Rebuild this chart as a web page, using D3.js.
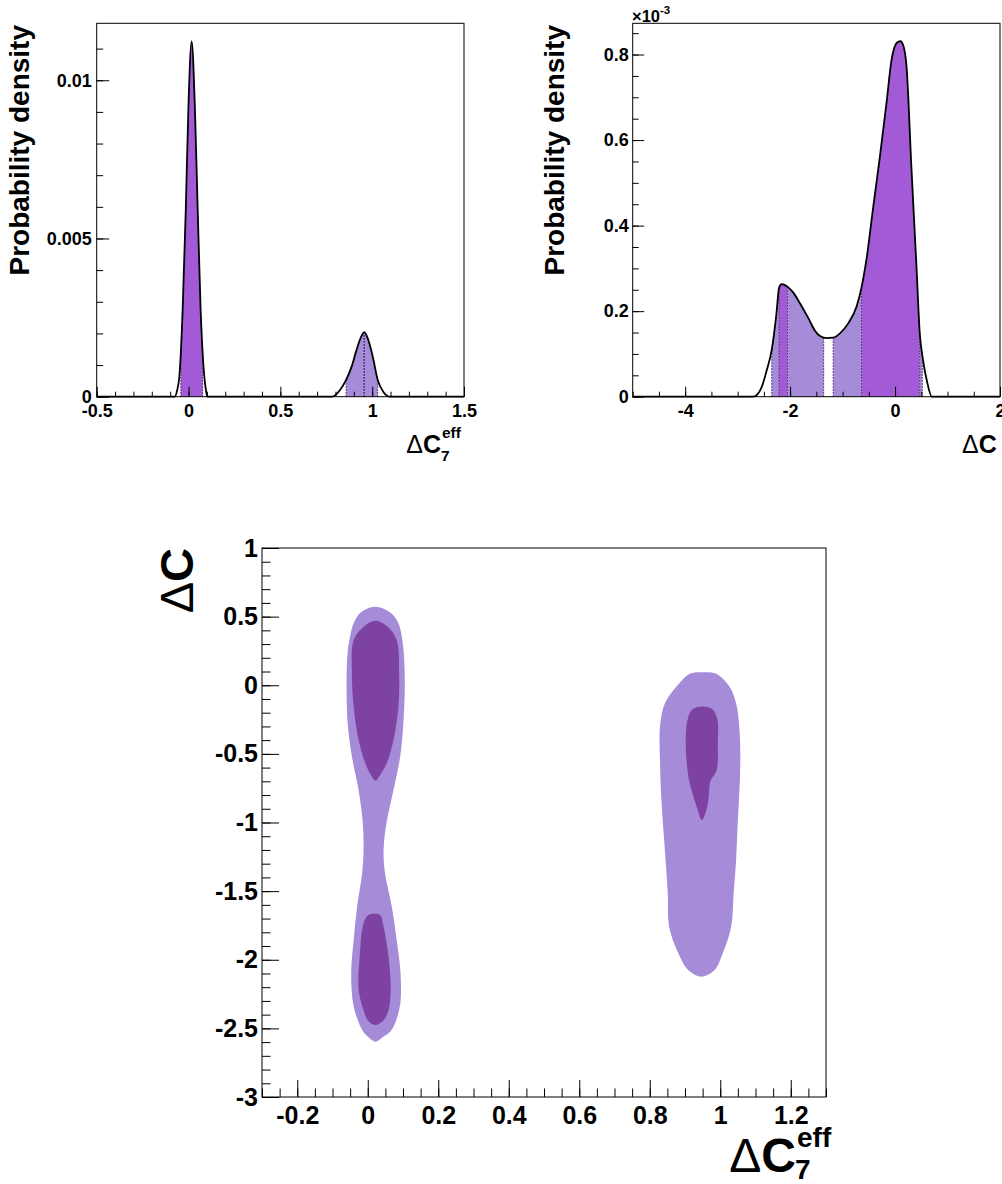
<!DOCTYPE html>
<html>
<head>
<meta charset="utf-8">
<script src="https://cdn.jsdelivr.net/npm/d3@7"></script>
<style>
  html, body { margin: 0; padding: 0; background: #fff; }
  svg { display: block; }
</style>
</head>
<body>
<svg id="chart" width="1002" height="1184"></svg>
<script>
const FONT = '"Liberation Sans", Arial, Helvetica, sans-serif';

// ---------- ΔC7eff marginal posterior: [value, density] ----------
const c7Points = [
  [-0.5, 0], [-0.075, 0], [-0.062, 0.0002], [-0.050, 0.00063], [-0.032, 0.00274],
  [-0.015, 0.0059], [-0.001, 0.00907], [0.017, 0.01123], [0.035, 0.00907],
  [0.050, 0.0059], [0.066, 0.00274], [0.086, 0.00063], [0.095, 0.0002], [0.102, 0],
  [0.78, 0], [0.825, 0.00021], [0.858, 0.00053], [0.888, 0.00095], [0.915, 0.00148],
  [0.942, 0.00192], [0.957, 0.00204], [0.979, 0.00179], [1.003, 0.00127],
  [1.030, 0.00053], [1.06, 0.00016], [1.098, 0], [1.5, 0]
];
// credible intervals: cl 68 = darker band, cl 95 = lighter band
const c7Bands = [
  { from: -0.042, to: 0.077, cl: 68 },
  { from: 0.858, to: 0.955, cl: 95 },
  { from: 0.955, to: 0.958, cl: 68 },
  { from: 0.958, to: 1.030, cl: 95 }
];
const c7XTicks = [-0.5, 0, 0.5, 1, 1.5];
const c7YTicks = [0, 0.005, 0.01];

// ---------- ΔC marginal posterior: [value, density ×10^-3] ----------
const cPoints = [
  [-5, 0], [-2.70, 0], [-2.54, 0.023], [-2.45, 0.06], [-2.35, 0.11], [-2.26, 0.195],
  [-2.21, 0.255], [-2.16, 0.263], [-2.10, 0.261], [-2.03, 0.255], [-1.95, 0.245],
  [-1.81, 0.218], [-1.65, 0.183], [-1.53, 0.155], [-1.43, 0.142], [-1.30, 0.137],
  [-1.18, 0.138], [-1.05, 0.148], [-0.89, 0.172], [-0.73, 0.212], [-0.64, 0.255],
  [-0.54, 0.325], [-0.42, 0.44], [-0.29, 0.56], [-0.16, 0.69], [-0.07, 0.785],
  [0.03, 0.827], [0.10, 0.831], [0.16, 0.82], [0.22, 0.77], [0.31, 0.54],
  [0.41, 0.30], [0.47, 0.15], [0.53, 0.088], [0.61, 0.035], [0.70, 0], [2, 0]
];
const cBands = [
  { from: -2.35, to: -2.21, cl: 95 },
  { from: -2.21, to: -2.05, cl: 68 },
  { from: -2.05, to: -1.36, cl: 95 },
  { from: -1.18, to: -0.64, cl: 95 },
  { from: -0.64, to: 0.47, cl: 68 },
  { from: 0.47, to: 0.52, cl: 95 }
];
const cXTicks = [-4, -2, 0, 2];
const cYTicks = [0, 0.2, 0.4, 0.6, 0.8];

// ---------- joint posterior regions: rows of [ΔC, ΔC7eff left edge, ΔC7eff right edge] ----------
const region95Left = [
  [0.572, 0.021, 0.021], [0.53, -0.020, 0.064], [0.451, -0.040, 0.087], [0.33, -0.052, 0.098],
  [0.208, -0.058, 0.103], [-0.035, -0.060, 0.105], [-0.277, -0.057, 0.101],
  [-0.52, -0.045, 0.092], [-0.763, -0.026, 0.073], [-1.006, -0.014, 0.053],
  [-1.20, -0.012, 0.045], [-1.37, -0.016, 0.049], [-1.61, -0.030, 0.068],
  [-1.856, -0.040, 0.082], [-2.099, -0.047, 0.093], [-2.34, -0.040, 0.091],
  [-2.51, -0.016, 0.068], [-2.56, 0.000, 0.045], [-2.597, 0.022, 0.022]
];
const region95Right = [
  [0.095, 0.951, 0.951], [0.085, 0.915, 0.987], [-0.010, 0.876, 1.026], [-0.132, 0.843, 1.045],
  [-0.302, 0.829, 1.054], [-0.545, 0.829, 1.057], [-0.787, 0.832, 1.054],
  [-1.031, 0.838, 1.049], [-1.273, 0.845, 1.045], [-1.516, 0.851, 1.038],
  [-1.759, 0.855, 1.031], [-1.953, 0.881, 1.007], [-2.075, 0.909, 0.984],
  [-2.123, 0.946, 0.946]
];
const region68Upper = [
  [0.470, 0.021, 0.021], [0.43, -0.010, 0.055], [0.33, -0.040, 0.082], [0.087, -0.045, 0.089],
  [-0.156, -0.040, 0.087], [-0.399, -0.026, 0.073], [-0.569, -0.007, 0.054],
  [-0.65, 0.008, 0.036], [-0.695, 0.022, 0.022]
];
const region68Lower = [
  [-1.674, 0.002, 0.035], [-1.735, -0.012, 0.043], [-1.978, -0.023, 0.059],
  [-2.22, -0.026, 0.065], [-2.366, -0.012, 0.059], [-2.44, 0.000, 0.045],
  [-2.475, 0.021, 0.021]
];
const region68Right = [
  [-0.155, 0.950, 0.950], [-0.175, 0.921, 0.978], [-0.253, 0.907, 0.992],
  [-0.423, 0.902, 0.993], [-0.617, 0.907, 0.990], [-0.70, 0.912, 0.972],
  [-0.787, 0.921, 0.968], [-0.885, 0.933, 0.963], [-0.982, 0.948, 0.948]
];
const jointXTicks = [-0.2, 0, 0.2, 0.4, 0.6, 0.8, 1, 1.2];
const jointYTicks = [1, 0.5, 0, -0.5, -1, -1.5, -2, -2.5, -3];

// ---------- styling ----------
const bandFill = { 68: "#a35ad7", 95: "#a68cd8" };
const regionFill = { 68: "#7e43a2", 95: "#a68cd8" };

const svg = d3.select("#chart");
svg.append("rect").attr("width", 1002).attr("height", 1184).attr("fill", "#fff");
const defs = svg.append("defs");

function minorValues(domain, step) {
  const lo = Math.ceil(domain[0] / step - 1e-9), hi = Math.floor(domain[1] / step + 1e-9);
  return d3.range(lo, hi + 1).map(k => +(k * step).toFixed(6));
}

// frame with ticks pointing inward
function drawAxes(g, x, y, o) {
  const yb = y.range()[0], xl = x.range()[0];
  const style = s => s.attr("font-family", FONT).attr("font-weight", "bold")
    .attr("font-size", o.fontSize).call(a => a.select(".domain").remove());
  g.append("g").attr("transform", `translate(0,${yb})`)
    .call(d3.axisBottom(x).tickValues(minorValues(x.domain(), o.xMinor)).tickSize(-o.xMinorLen).tickFormat(""))
    .call(style);
  g.append("g").attr("transform", `translate(0,${yb})`)
    .call(d3.axisBottom(x).tickValues(o.xTicks).tickSize(-o.xMajorLen).tickPadding(o.xPad).tickFormat(d => String(d)))
    .call(style);
  g.append("g").attr("transform", `translate(${xl},0)`)
    .call(d3.axisLeft(y).tickValues(minorValues(y.domain(), o.yMinor)).tickSize(-o.yMinorLen).tickFormat(""))
    .call(style);
  g.append("g").attr("transform", `translate(${xl},0)`)
    .call(d3.axisLeft(y).tickValues(o.yTicks).tickSize(-o.yMajorLen).tickPadding(o.yPad).tickFormat(d => String(d)))
    .call(style);
  g.selectAll(".tick text").attr("fill", "#000");
  g.selectAll(".tick line").attr("stroke", "#000");
  g.append("rect")
    .attr("x", x.range()[0]).attr("y", y.range()[1])
    .attr("width", x.range()[1] - x.range()[0]).attr("height", y.range()[0] - y.range()[1])
    .attr("fill", "none").attr("stroke", "#000").attr("stroke-width", 1);
}

function densityPanel(o) {
  const g = svg.append("g");
  const x = d3.scaleLinear().domain(o.xDomain).range([o.left, o.right]);
  const y = d3.scaleLinear().domain(o.yDomain).range([o.bottom, o.top]);
  const area = d3.area().x(d => x(d[0])).y0(y(0)).y1(d => y(d[1])).curve(d3.curveMonotoneX);
  const line = d3.line().x(d => x(d[0])).y(d => y(d[1])).curve(d3.curveMonotoneX);

  const shapeId = o.id + "-shape";
  defs.append("clipPath").attr("id", shapeId).append("path").attr("d", area(o.points));

  o.bands.forEach((b, i) => {
    const cid = `${o.id}-band${i}`;
    defs.append("clipPath").attr("id", cid).append("rect")
      .attr("x", x(b.from)).attr("y", o.top)
      .attr("width", x(b.to) - x(b.from)).attr("height", o.bottom - o.top);
    g.append("path").attr("d", area(o.points)).attr("fill", bandFill[b.cl])
      .attr("clip-path", `url(#${cid})`);
  });

  const edges = Array.from(new Set(o.bands.flatMap(b => [b.from, b.to])));
  g.append("g").attr("clip-path", `url(#${shapeId})`)
    .selectAll("line").data(edges).join("line")
    .attr("x1", d => x(d)).attr("x2", d => x(d))
    .attr("y1", o.bottom).attr("y2", o.top)
    .attr("stroke", "#3b2160").attr("stroke-width", 1).attr("stroke-dasharray", "1.5,1.5");

  g.append("path").attr("d", line(o.points)).attr("fill", "none")
    .attr("stroke", "#000").attr("stroke-width", 1.8);

  drawAxes(g, x, y, o.axes);
  return g;
}

// "ΔC" right-aligned at xEnd (or left-aligned when anchor is "start")
function deltaC(g, xPos, base, size, anchor) {
  const t = g.append("text").attr("x", xPos).attr("y", base).attr("text-anchor", anchor || "end")
    .attr("font-family", FONT).attr("font-size", size).attr("fill", "#000");
  t.append("tspan").attr("font-weight", "normal").text("Δ");
  t.append("tspan").attr("font-weight", "bold").text("C");
  return t;
}

function scriptText(g, xPos, base, size, str) {
  return g.append("text").attr("x", xPos).attr("y", base).attr("font-family", FONT)
    .attr("font-weight", "bold").attr("font-size", size).attr("fill", "#000").text(str);
}

function yTitle(g, xBase, yTop, size, parts) {
  const t = g.append("text").attr("transform", `translate(${xBase},${yTop}) rotate(-90)`)
    .attr("text-anchor", "end").attr("font-family", FONT).attr("font-size", size).attr("fill", "#000");
  parts.forEach(p => t.append("tspan").attr("font-weight", p[1]).text(p[0]));
}

// ---------- top-left: ΔC7eff ----------
const pA = densityPanel({
  id: "c7", points: c7Points, bands: c7Bands,
  xDomain: [-0.5, 1.5], yDomain: [0, 0.0118],
  left: 96.7, right: 464, top: 23.3, bottom: 396.7,
  axes: { xTicks: c7XTicks, yTicks: c7YTicks, xMinor: 0.1, yMinor: 0.001,
          xMajorLen: 10, xMinorLen: 5, yMajorLen: 12.5, yMinorLen: 6.5,
          xPad: 7.5, yPad: 5, fontSize: 18 }
});
yTitle(pA, 29, 25, 28, [["Probability density", "bold"]]);
deltaC(pA, 441, 453, 25);
scriptText(pA, 442, 438, 15.5, "eff");
scriptText(pA, 441, 461, 15.5, "7");

// ---------- top-right: ΔC ----------
const pB = densityPanel({
  id: "c", points: cPoints, bands: cBands,
  xDomain: [-5, 2], yDomain: [0, 0.873],
  left: 632.7, right: 1000, top: 23.3, bottom: 396.7,
  axes: { xTicks: cXTicks, yTicks: cYTicks, xMinor: 0.5, yMinor: 0.05,
          xMajorLen: 10, xMinorLen: 5, yMajorLen: 11.5, yMinorLen: 6,
          xPad: 7.5, yPad: 4, fontSize: 18 }
});
yTitle(pB, 564, 25, 28, [["Probability density", "bold"]]);
deltaC(pB, 962, 453, 25, "start");
{
  const e = pB.append("text").attr("x", 632).attr("y", 22).attr("font-family", FONT)
    .attr("font-weight", "bold").attr("fill", "#000");
  e.append("tspan").attr("font-size", 16.5).text("×10");
  e.append("tspan").attr("font-size", 11.5).attr("dy", -8).text("-3");
}

// ---------- bottom: joint ΔC7eff vs ΔC ----------
{
  const g = svg.append("g");
  const x = d3.scaleLinear().domain([-0.3, 1.3]).range([262, 826]);
  const y = d3.scaleLinear().domain([-3, 1]).range([1097, 548]);
  const outline = d3.line().x(d => x(d[0])).y(d => y(d[1])).curve(d3.curveCatmullRomClosed.alpha(0.5));
  const ring = rows => rows.map(r => [r[1], r[0]])
    .concat(rows.slice().reverse().filter(r => r[1] !== r[2]).map(r => [r[2], r[0]]));

  g.selectAll("path.r95").data([region95Left, region95Right]).join("path")
    .attr("class", "r95").attr("d", d => outline(ring(d))).attr("fill", regionFill[95]);
  g.selectAll("path.r68").data([region68Upper, region68Lower, region68Right]).join("path")
    .attr("class", "r68").attr("d", d => outline(ring(d))).attr("fill", regionFill[68]);

  drawAxes(g, x, y, { xTicks: jointXTicks, yTicks: jointYTicks, xMinor: 0.05, yMinor: 0.1,
                      xMajorLen: 17, xMinorLen: 8.5, yMajorLen: 17, yMinorLen: 8.5,
                      xPad: 9, yPad: 4, fontSize: 25 });

  yTitle(g, 193, 548, 47, [["Δ", "normal"], ["C", "bold"]]);
  deltaC(g, 796, 1172, 48);
  scriptText(g, 797, 1147, 28, "eff");
  scriptText(g, 795, 1179, 28, "7");
}
</script>
</body>
</html>
